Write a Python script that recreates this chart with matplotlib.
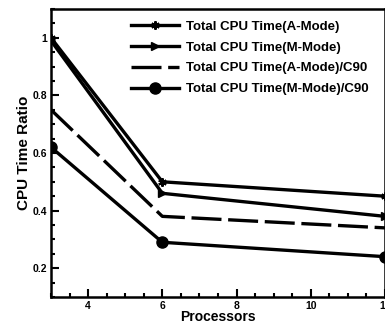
import matplotlib
matplotlib.use("Agg")
import matplotlib.pyplot as plt
from matplotlib.ticker import MultipleLocator

processors = [3, 6, 12]
a_mode = [1.00, 0.50, 0.45]
m_mode = [0.99, 0.46, 0.38]
a_mode_c90 = [0.75, 0.38, 0.34]
m_mode_c90 = [0.62, 0.29, 0.24]
labels = ["Total CPU Time(A-Mode)", "Total CPU Time(M-Mode)",
          "Total CPU Time(A-Mode)/C90", "Total CPU Time(M-Mode)/C90"]

plt.rcParams['font.family'] = ['Liberation Sans', 'DejaVu Sans']
plt.rcParams['font.weight'] = 'bold'

fig = plt.figure(figsize=(3.85, 3.26), dpi=100)
ax = fig.add_axes([51/385, 29/326, 334/385, 288/326])

lw = 2.4
ax.plot(processors, a_mode, color='black', lw=lw, marker=(6, 2, 0), ms=6, mew=1.5, label=labels[0])
ax.plot(processors, m_mode, color='black', lw=lw, marker='>', ms=6, label=labels[1])
ax.plot(processors, a_mode_c90, color='black', lw=lw, dashes=[9, 2], label=labels[2])
ax.plot(processors, m_mode_c90, color='black', lw=lw, marker='o', ms=8, label=labels[3])

ax.set_xlim(3, 12)
ax.set_ylim(0.1, 1.1)
ax.xaxis.set_major_locator(MultipleLocator(2))
ax.xaxis.set_minor_locator(MultipleLocator(0.5))
ax.yaxis.set_major_locator(MultipleLocator(0.2))
ax.yaxis.set_minor_locator(MultipleLocator(0.05))
ax.tick_params(which='both', direction='in', width=1.5, labelsize=7.5, pad=3)
ax.tick_params(which='major', length=6)
ax.tick_params(which='minor', length=3)
ax.set_xticks([4, 6, 8, 10, 12])
ax.set_xticklabels(['4', '6', '8', '10', '12'])
ax.set_yticks([0.2, 0.4, 0.6, 0.8, 1.0])
ax.set_yticklabels(['0.2', '0.4', '0.6', '0.8', '1'])
for s in ax.spines.values():
    s.set_linewidth(1.8)

ax.set_xlabel('Processors', fontsize=10, fontweight='bold', labelpad=-1)
ax.set_ylabel('CPU Time Ratio', fontsize=11, fontweight='bold', labelpad=1)

leg = ax.legend(loc='upper left', bbox_to_anchor=(124/385, 1 - 14/326),
                bbox_transform=fig.transFigure, frameon=False,
                fontsize=9.5, handlelength=3.7, handletextpad=0.5,
                labelspacing=0.65, borderpad=0)
for t in leg.get_texts():
    t.set_fontweight('bold')

fig.savefig('out.png', dpi=100)
